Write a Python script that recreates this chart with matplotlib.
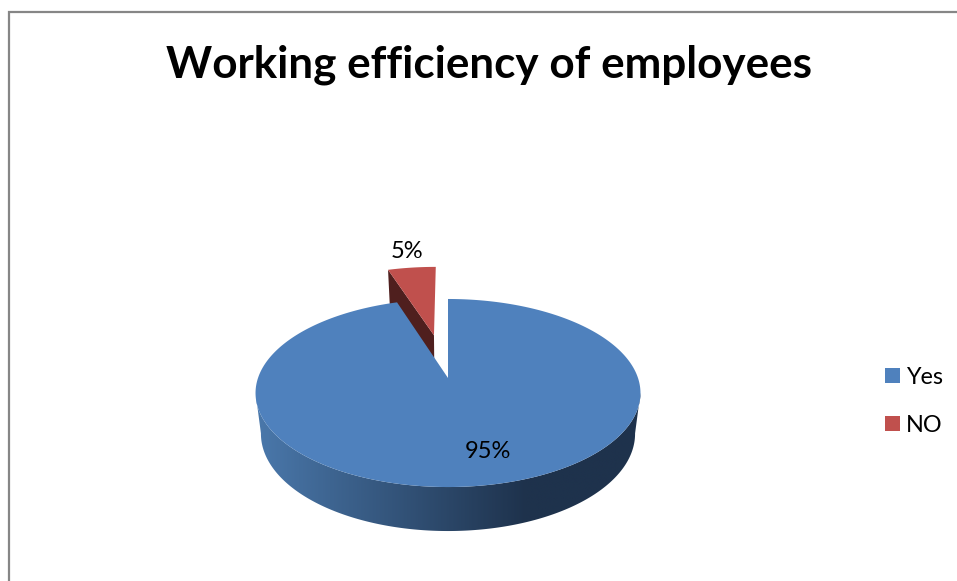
import numpy as np
import matplotlib
matplotlib.use("Agg")
import matplotlib.pyplot as plt
from matplotlib.colors import LinearSegmentedColormap
from matplotlib.patches import Polygon, Rectangle

title = "Working efficiency of employees"
categories = ["Yes", "NO"]
values = [95, 5]
colors = ["#4f81bd", "#c0504d"]
label_pos = [(488, 452), (407, 252)]

plt.rcParams['font.family'] = ['Lato', 'DejaVu Sans']

W, H = 957, 581
fig = plt.figure(figsize=(W / 100, H / 100), dpi=100)
ax = fig.add_axes([0, 0, 1, 1])
ax.set_xlim(0, W)
ax.set_ylim(H, 0)
ax.axis("off")

CX, CY = 448, 378
PY, PERSP, RX = 31.3, -0.1596, 190


def top(u, v):
    # pie plane seen in perspective, unit circle -> screen
    d = 1 + PERSP * v
    return CX + RX * u / d, (CY + PY * v) / d


def low(u, v):
    x, y = top(u, v)
    return CX + (x - CX) * 0.972, y + 40 + 4 * v


def arc(t0, t1, du=0.0, dv=0.0, fn=top):
    t = np.radians(np.linspace(t0, t1, 300))
    x, y = fn(np.sin(t) + du, -np.cos(t) + dv)
    return np.column_stack([x, y])


ax.add_patch(Rectangle((9, 12), W, H, fc="white", ec="#868686", lw=1.6))
ax.text(489, 65, title, fontsize=31.7, fontweight="bold", ha="center", va="center")

angles = np.cumsum([0] + values) / sum(values) * 360

# exploded slice
a0, a1 = angles[1], angles[2]
mid = np.radians((a0 + a1) / 2)
du, dv = 0.51 * np.sin(mid), -0.51 * np.cos(mid)
apex_top = top(du, dv)
apex_low = low(du, dv)
s = np.radians(a0)
edge_top = top(np.sin(s) + du, -np.cos(s) + dv)
edge_low = low(np.sin(s) + du, -np.cos(s) + dv)
ax.add_patch(Polygon([apex_top, edge_top, edge_low, apex_low], fc="#4f1f1e", ec="none"))
ax.add_patch(Polygon(np.vstack([[apex_top], arc(a0, a1, du, dv)]), fc=colors[1], ec="none"))

# blue wall with gradient, from rim tangent to rim tangent
wall = np.vstack([arc(99, 261), arc(261, 99, fn=low)])
wall_patch = Polygon(wall, fc="none", ec="none")
ax.add_patch(wall_patch)
cmap = LinearSegmentedColormap.from_list("wall", ["#4a78ab", "#1e324c"])
grad = np.clip((np.linspace(256, 641, 400) - 256) / (527 - 256), 0, 1)
img = ax.imshow(grad[None, :], cmap=cmap, vmin=0, vmax=1, extent=(256, 641, 540, 360),
                aspect="auto", interpolation="bilinear", zorder=1)
img.set_clip_path(wall_patch)
ax.set_xlim(0, W)
ax.set_ylim(H, 0)

# inner cut line and top face of the big slice
ax.plot(*zip(top(0, -0.95), top(0, 0)), color="#2a4666", lw=0.6, zorder=1)
ax.add_patch(Polygon(np.vstack([[top(0, 0)], arc(angles[0], angles[1])]), fc=colors[0], ec="none"))

for val, (x, y) in zip(values, label_pos):
    ax.text(x, y, f"{val}%", fontsize=17, ha="center", va="center")

# legend
for name, col, y in zip(categories, colors, [368, 416]):
    ax.add_patch(Rectangle((885, y), 15, 15, fc=col, ec="none"))
    ax.text(906, y + 9, name, fontsize=16.8, ha="left", va="center")

fig.savefig("out.png", dpi=100)
